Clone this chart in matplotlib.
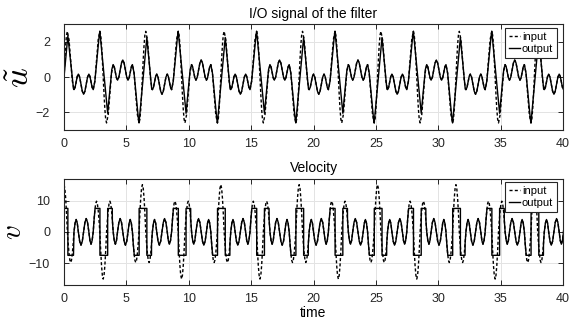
import numpy as np
import matplotlib
matplotlib.use("Agg")
import matplotlib.pyplot as plt

plt.rcParams.update(
    {
        "font.family": ["Liberation Sans", "DejaVu Sans"],
        "font.size": 9,
        "mathtext.fontset": "cm",
        "axes.edgecolor": "#262626",
        "axes.linewidth": 0.8,
        "xtick.color": "#262626",
        "ytick.color": "#262626",
        "xtick.labelsize": 9,
        "ytick.labelsize": 9,
    }
)

PERIOD = 2 * np.pi   # the signal repeats every 2*pi seconds
N_PERIODS = 7

# one period of the filter input u
u_in_t = [0.000, 0.070, 0.135, 0.200, 0.270, 0.403, 0.535, 0.668, 0.800, 0.888, 0.975, 1.063, 1.150,
          1.255, 1.360, 1.466, 1.571, 1.676, 1.781, 1.887, 1.992, 2.079, 2.167, 2.254, 2.342, 2.474,
          2.607, 2.739, 2.872, 2.942, 3.007, 3.072, 3.142, 3.212, 3.277, 3.342, 3.412, 3.545, 3.677,
          3.810, 3.942, 4.030, 4.117, 4.205, 4.292, 4.397, 4.502, 4.608, 4.712, 4.818, 4.923, 5.029,
          5.134, 5.221, 5.309, 5.396, 5.484, 5.616, 5.749, 5.881, 6.014, 6.084, 6.149, 6.214]
u_in = [0.00, 1.03, 1.84, 2.39, 2.60, 2.12, 0.95, -0.23, -0.71, -0.58, -0.27, 0.04, 0.17,
        0.00, -0.40, -0.80, -0.97, -0.80, -0.40, 0.00, 0.17, 0.04, -0.27, -0.58, -0.71, -0.23,
        0.95, 2.12, 2.60, 2.39, 1.84, 1.03, 0.00, -1.03, -1.84, -2.39, -2.60, -2.12, -0.95,
        0.23, 0.71, 0.58, 0.27, -0.04, -0.17, 0.00, 0.40, 0.80, 0.97, 0.80, 0.40, 0.00,
        -0.17, -0.04, 0.27, 0.58, 0.71, 0.23, -0.95, -2.12, -2.60, -2.39, -1.84, -1.03]

# filter output u: start-up part, then one steady period from t = 0.8
u_out_head_t = [0.00, 0.31, 0.76]
u_out_head = [0.00, 2.35, -0.66]
u_out_t = [0.800, 0.888, 0.975, 1.063, 1.150, 1.255, 1.360, 1.466, 1.571, 1.676, 1.781, 1.887,
           1.992, 2.079, 2.167, 2.254, 2.342, 2.474, 2.810, 2.872, 3.500, 3.830, 3.942, 4.030,
           4.117, 4.205, 4.292, 4.397, 4.502, 4.608, 4.712, 4.818, 4.923, 5.029, 5.134, 5.221,
           5.309, 5.396, 5.484, 5.616, 5.950, 6.014, 6.640, 7.030]
u_out = [-0.71, -0.58, -0.27, 0.04, 0.17, 0.00, -0.40, -0.80, -0.97, -0.80, -0.40, 0.00,
         0.17, 0.04, -0.27, -0.58, -0.71, -0.23, 2.28, 2.60, -2.05, 0.43, 0.71, 0.58,
         0.27, -0.04, -0.17, 0.00, 0.40, 0.80, 0.97, 0.80, 0.40, 0.00, -0.17, -0.04,
         0.27, 0.58, 0.71, 0.23, -2.28, -2.60, 2.25, -0.68]

# one period of the input velocity
v_in_t = [0.000, 0.068, 0.135, 0.203, 0.270, 0.336, 0.403, 0.469, 0.535, 0.601, 0.668, 0.734,
          0.800, 0.888, 0.975, 1.063, 1.150, 1.255, 1.360, 1.466, 1.571, 1.676, 1.781, 1.887,
          1.992, 2.079, 2.167, 2.254, 2.342, 2.408, 2.474, 2.540, 2.607, 2.673, 2.739, 2.805,
          2.872, 2.939, 3.006, 3.074, 3.142, 3.210, 3.277, 3.345, 3.412, 3.478, 3.545, 3.611,
          3.677, 3.743, 3.810, 3.876, 3.942, 4.030, 4.117, 4.204, 4.292, 4.397, 4.502, 4.608,
          4.712, 4.818, 4.923, 5.029, 5.134, 5.221, 5.309, 5.396, 5.484, 5.550, 5.616, 5.682,
          5.749, 5.815, 5.881, 5.947, 6.014, 6.081, 6.148, 6.216]
v_in = [15.1, 13.9, 10.7, 5.8, 0.0, -3.75, -6.94, -9.06, -9.81, -9.06, -6.94, -3.75,
        0.0, 2.79, 3.95, 2.79, 0.0, -3.0, -4.25, -3.0, 0.0, 3.0, 4.25, 3.0,
        0.0, -2.79, -3.95, -2.79, 0.0, 3.75, 6.94, 9.06, 9.81, 9.06, 6.94, 3.75,
        0.0, -5.8, -10.7, -13.9, -15.1, -13.9, -10.7, -5.8, 0.0, 3.75, 6.94, 9.06,
        9.81, 9.06, 6.94, 3.75, 0.0, -2.79, -3.95, -2.79, 0.0, 3.0, 4.25, 3.0,
        0.0, -3.0, -4.25, -3.0, 0.0, 2.79, 3.95, 2.79, 0.0, -3.75, -6.94, -9.06,
        -9.81, -9.06, -6.94, -3.75, 0.0, 5.8, 10.7, 13.9]

# output velocity (rate limited at +-7.5)
v_out_head_t = [0.00, 0.00, 0.31, 0.31, 0.76]
v_out_head = [0.0, 7.5, 7.5, -7.5, -7.5]
v_out_t = [0.800, 0.888, 0.975, 1.063, 1.150, 1.255, 1.360, 1.466, 1.571, 1.676, 1.781, 1.887,
           1.992, 2.079, 2.167, 2.254, 2.342, 2.408, 2.474, 2.490, 2.880, 2.880, 3.500, 3.500,
           3.870, 3.876, 3.942, 4.030, 4.117, 4.204, 4.292, 4.397, 4.502, 4.608, 4.712, 4.818,
           4.923, 5.029, 5.134, 5.221, 5.309, 5.396, 5.484, 5.550, 5.616, 5.632, 6.022, 6.022,
           6.642, 6.642, 7.012, 7.018]
v_out = [0.0, 2.79, 3.95, 2.79, 0.0, -3.0, -4.25, -3.0, 0.0, 3.0, 4.25, 3.0,
         0.0, -2.79, -3.95, -2.79, 0.0, 3.75, 6.94, 7.5, 7.5, -7.5, -7.5, 7.5,
         7.5, 3.75, 0.0, -2.79, -3.95, -2.79, 0.0, 3.0, 4.25, 3.0, 0.0, -3.0,
         -4.25, -3.0, 0.0, 2.79, 3.95, 2.79, 0.0, -3.75, -6.94, -7.5, -7.5, 7.5,
         7.5, -7.5, -7.5, -3.75]


def repeat(t, y, head_t=(), head_y=()):
    """stack copies of one period after each other"""
    t = np.asarray(t)
    tt = np.concatenate([np.asarray(head_t)] + [t + k * PERIOD for k in range(N_PERIODS)])
    yy = np.concatenate([np.asarray(head_y), np.tile(y, N_PERIODS)])
    return tt, yy


fig = plt.figure(figsize=(5.73, 3.22), dpi=100)
ax1 = fig.add_axes([0.1117, 0.5963, 0.8709, 0.3283])
ax2 = fig.add_axes([0.1117, 0.1149, 0.8709, 0.3301])

panels = [
    (ax1, repeat(u_in_t, u_in), repeat(u_out_t, u_out, u_out_head_t, u_out_head),
     (-3, 3), [-2, 0, 2], r"$\tilde{u}$", 25, -0.056, "I/O signal of the filter"),
    (ax2, repeat(v_in_t, v_in), repeat(v_out_t, v_out, v_out_head_t, v_out_head),
     (-17, 17), [-10, 0, 10], r"$v$", 21, -0.074, "Velocity"),
]

for ax, (ti, yi), (to, yo), ylim, yticks, ylabel, ysize, yx, title in panels:
    ax.plot(ti, yi, color="black", linewidth=1.0, linestyle=(0, (2.2, 1.6)), label="input")
    ax.plot(to, yo, color="black", linewidth=1.0, label="output")
    ax.set_xlim(0, 40)
    ax.set_ylim(*ylim)
    ax.set_xticks(np.arange(0, 41, 5))
    ax.set_yticks(yticks)
    ax.grid(True, color="#e3e3e3", linewidth=0.7)
    ax.set_axisbelow(True)
    ax.tick_params(direction="in", length=3.5, width=0.7, top=True, right=True)
    ax.tick_params(axis="x", pad=5.8)
    ax.tick_params(axis="y", pad=10)
    ax.set_ylabel(ylabel, fontsize=ysize)
    ax.yaxis.set_label_coords(yx, 0.5)
    ax.set_title(title, fontsize=10, pad=4.5)
    leg = ax.legend(loc="upper right", bbox_to_anchor=(0.988, 0.967), borderaxespad=0,
                    fontsize=8, handlelength=1.0, handletextpad=0.2, borderpad=0.35,
                    labelspacing=0.2, fancybox=False, framealpha=1, edgecolor="#262626")
    leg.get_frame().set_linewidth(0.8)

ax2.set_xlabel("time", fontsize=10, labelpad=1)

plt.savefig("out.png", dpi=100)
